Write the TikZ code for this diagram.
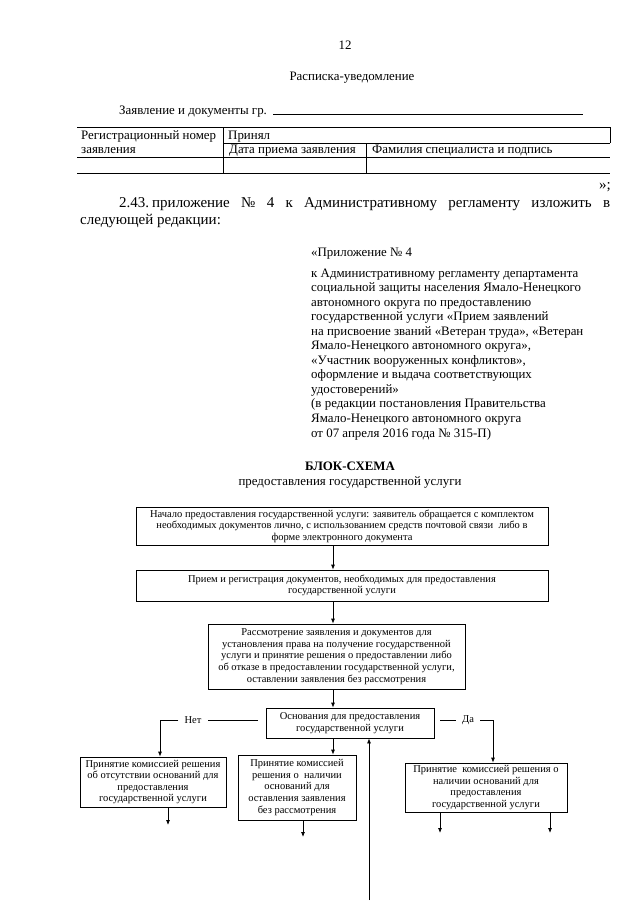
\documentclass[tikz,border=0pt]{standalone}
\usepackage{fontspec}
\setmainfont{Liberation Serif}
\usetikzlibrary{arrows.meta}
\newcommand\diafont{\fontsize{10.5}{11.6}\selectfont}
\newcommand\bodyfont{\fontsize{12.9}{14.5}\selectfont}
\newcommand\parafont{\fontsize{15}{17.5}\selectfont}
\tikzset{
  box/.style={draw, line width=0.75pt, inner sep=0pt, align=center, font=\diafont},
  arr/.style={line width=0.75pt, -{Latex[length=5pt,width=4pt]}},
  ln/.style={line width=0.75pt},
  tline/.style={line width=0.6pt},
  txt/.style={inner sep=0pt, anchor=base west, font=\bodyfont},
  ctxt/.style={inner sep=0pt, anchor=base, font=\bodyfont},
  lbl/.style={inner xsep=6pt, inner ysep=0pt, font=\diafont},
}
\begin{document}
\begin{tikzpicture}[x=1pt,y=-1pt]
\fill[white] (0,0) rectangle (640,905);
\useasboundingbox (0,0) rectangle (640,905);

% header
\node[ctxt] (pnum) at (345,49) {12};
\node[ctxt] (title) at (352,80) {Расписка-уведомление};
\node[txt] (zayav) at (119,114) {Заявление и документы гр.};
\coordinate (ul1) at (273,114);
\coordinate (ul2) at (583,114);
\draw[tline] (ul1) -- (ul2);

% table
\draw[tline] (77,127) -- (610,127);
\draw[tline] (223,143) -- (610,143);
\draw[tline] (77,157) -- (610,157);
\draw[tline] (77,173) -- (610,173);
\draw[tline] (223,127) -- (223,173);
\draw[tline] (366,143) -- (366,173);
\draw[tline] (610,127) -- (610,143);
\node[txt] (t11) at (81,139) {Регистрационный номер};
\node[txt] (t12) at (228,139) {Принял};
\node[txt] (t21) at (81,153) {заявления};
\node[txt] (t22) at (229,153) {Дата приема заявления};
\node[txt] (t23) at (372,153) {Фамилия специалиста и подпись};

% paragraph
\node[inner sep=0pt, anchor=base east, font=\parafont] (quote) at (611,189) {»;};
\node[inner sep=0pt, anchor=base west, font=\parafont] (p1) at (119,207)
  {\makebox[491pt][s]{2.43.\hspace{3pt}приложение № 4 к Административному регламенту изложить в}};
\node[inner sep=0pt, anchor=base west, font=\parafont] (p2) at (80,224) {следующей редакции:};

% appendix header
\node[txt] (app) at (311,256) {«Приложение № 4};
\foreach \t [count=\i from 0] in {
  {к Административному регламенту департамента},
  {социальной защиты населения Ямало-Ненецкого},
  {автономного округа по предоставлению},
  {государственной услуги «Прием заявлений},
  {на присвоение званий «Ветеран труда», «Ветеран},
  {Ямало-Ненецкого автономного округа»,},
  {«Участник вооруженных конфликтов»,},
  {оформление и выдача соответствующих},
  {удостоверений»},
  {(в редакции постановления Правительства},
  {Ямало-Ненецкого автономного округа},
  {от 07 апреля 2016 года № 315-П)}}
  \node[txt] (app\i) at (311,{277+14.55*\i}) {\t};

% block scheme title
\node[ctxt, font=\bodyfont\bfseries] (bs1) at (350,470) {БЛОК-СХЕМА};
\node[ctxt] (bs2) at (350,485) {предоставления государственной услуги};

% boxes
\node[box, minimum width=412, minimum height=38] (b1) at (342,526)
  {Начало предоставления государственной услуги: заявитель обращается с комплектом\\
   необходимых документов лично, с использованием средств почтовой связи\ \ либо в\\
   форме электронного документа};
\node[box, minimum width=412, minimum height=31] (b2) at (342,585.5)
  {Прием и регистрация документов, необходимых для предоставления\\
   государственной услуги};
\node[box, minimum width=257, minimum height=65] (b3) at (336.5,656.5)
  {Рассмотрение заявления и документов для\\
   установления права на получение государственной\\
   услуги и принятие решения о предоставлении либо\\
   об отказе в предоставлении государственной услуги,\\
   оставлении заявления без рассмотрения};
\node[box, minimum width=168, minimum height=30] (b4) at (350,723)
  {Основания для предоставления\\ государственной услуги};
\node[box, minimum width=146, minimum height=50] (b5) at (153,782)
  {Принятие комиссией решения\\ об отсутствии оснований для\\ предоставления\\ государственной услуги};
\node[box, minimum width=118, minimum height=65] (b6) at (297,787.5)
  {Принятие комиссией\\ решения о\ \ наличии\\ оснований для\\ оставления заявления\\ без рассмотрения};
\node[box, minimum width=162, minimum height=49] (b7) at (486,787.5)
  {Принятие\ \ комиссией решения о\\ наличии оснований для\\ предоставления\\ государственной услуги};

% main vertical arrows
\coordinate (ax) at (333,0);
\draw[arr] (b1.south -| ax) -- (b2.north -| ax);
\draw[arr] (b2.south -| ax) -- (b3.north -| ax);
\draw[arr] (b3.south -| ax) -- (b4.north -| ax);
\draw[arr] (b4.south -| ax) -- (b6.north -| ax);

% Нет branch
\node[lbl] (net) at (193,720) {Нет};
\coordinate (netr) at (258,720);
\coordinate (nl) at (160,720);
\draw[ln] (netr) -- (net.east);
\draw[arr] (net.west) -- (nl) -- (b5.north -| nl);

% Да branch
\node[lbl] (da) at (468,720) {Да};
\coordinate (dal) at (440,720);
\coordinate (nr) at (493,720);
\draw[ln] (dal) -- (da.west);
\draw[arr] (da.east) -- (nr) -- (b7.north -| nr);

% upward arrow
\coordinate (up0) at (369,900);
\draw[arr] (up0) -- (b4.south -| up0);

% exits
\coordinate (e5) at (168,825);
\coordinate (e6) at (303,837);
\coordinate (e7a) at (440,833);
\coordinate (e7b) at (550,833);
\draw[arr] (b5.south -| e5) -- (e5);
\draw[arr] (b6.south -| e6) -- (e6);
\draw[arr] (b7.south -| e7a) -- (e7a);
\draw[arr] (b7.south -| e7b) -- (e7b);
\end{tikzpicture}
\end{document}
